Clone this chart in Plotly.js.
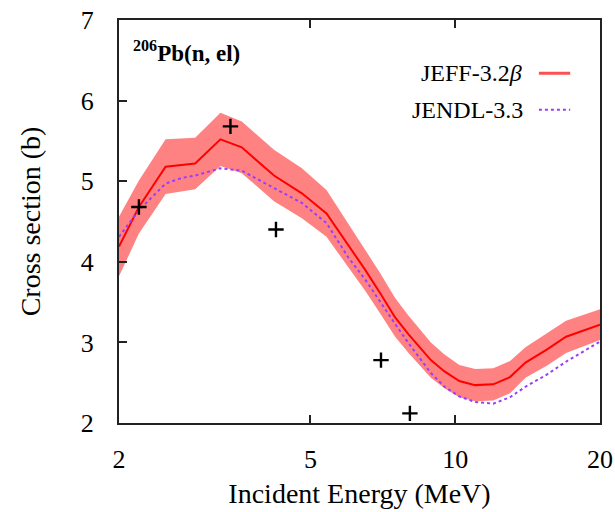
<!DOCTYPE html>
<html>
<head>
<meta charset="utf-8">
<script src="https://cdn.plot.ly/plotly-3.0.1.min.js"></script>
<style>html,body{margin:0;padding:0;background:#fff;}#chart{width:615px;height:512px;}</style>
</head>
<body>
<div id="chart"></div>
<script>
// JEFF-3.2beta evaluation (central value and 1-sigma half-width), barns
const jeffEnergy = [2.0, 2.2, 2.5, 2.88, 3.25, 3.6, 4.2, 4.8, 5.4, 6.0, 6.5, 7.0, 7.5, 8.0, 8.9, 9.5, 10.2, 11.0, 12.0, 13.0, 14.0, 15.5, 17.0, 20.0];
const jeffXS     = [4.19, 4.68, 5.18, 5.22, 5.52, 5.42, 5.07, 4.85, 4.60, 4.20, 3.90, 3.60, 3.31, 3.10, 2.78, 2.64, 2.52, 2.47, 2.48, 2.57, 2.75, 2.91, 3.07, 3.22];
const jeffErr    = [0.37, 0.33, 0.34, 0.32, 0.33, 0.32, 0.32, 0.31, 0.29, 0.27, 0.26, 0.25, 0.24, 0.23, 0.22, 0.21, 0.20, 0.20, 0.20, 0.20, 0.19, 0.20, 0.20, 0.19];

// JENDL-3.3 evaluation
const jendlEnergy = [2.0, 2.2, 2.5, 2.7, 2.88, 3.25, 3.6, 4.2, 4.8, 5.4, 6.0, 6.5, 7.0, 7.5, 8.0, 8.9, 9.5, 10.2, 11.0, 12.0, 13.0, 14.0, 15.5, 17.0, 20.0];
const jendlXS     = [4.31, 4.64, 4.97, 5.04, 5.07, 5.16, 5.13, 4.91, 4.73, 4.48, 4.05, 3.78, 3.49, 3.23, 2.99, 2.62, 2.45, 2.33, 2.26, 2.24, 2.32, 2.45, 2.60, 2.76, 3.01];

// Experimental points
const expEnergy = [2.20, 3.41, 4.24, 7.01, 8.05];
const expXS     = [4.68, 5.68, 4.40, 2.78, 2.12];

// Tick labels
const xTickVals = [2, 5, 10, 20];
const xTickText = ['2', '5', '10', '20'];
const yTickVals = [2, 3, 4, 5, 6, 7];

const upper = jeffXS.map((v, i) => v + jeffErr[i]);
const lower = jeffXS.map((v, i) => v - jeffErr[i]);

const serif = '"Liberation Serif", "Times New Roman", Times, "DejaVu Serif", serif';

const traces = [
  { x: jeffEnergy, y: upper, type: 'scatter', mode: 'lines', line: {width: 0, color: 'rgba(0,0,0,0)'}, hoverinfo: 'skip', showlegend: false },
  { x: jeffEnergy, y: lower, type: 'scatter', mode: 'lines', line: {width: 0, color: 'rgba(0,0,0,0)'}, fill: 'tonexty', fillcolor: 'rgb(255,130,130)', hoverinfo: 'skip', showlegend: false },
  { x: jeffEnergy, y: jeffXS, type: 'scatter', mode: 'lines', line: {color: '#ff0000', width: 2}, name: 'JEFF-3.2β', showlegend: false },
  { x: jendlEnergy, y: jendlXS, type: 'scatter', mode: 'lines', line: {color: '#9a3cff', width: 2, dash: 'dot'}, name: 'JENDL-3.3', showlegend: false },
  { x: expEnergy, y: expXS, type: 'scatter', mode: 'markers', marker: {symbol: 'cross-thin', size: 11, line: {color: '#000', width: 2.4}, color: '#000'}, name: 'EXFOR', showlegend: false }
];

const layout = {
  width: 615, height: 512,
  margin: {l: 119, r: 15, t: 20, b: 89},
  paper_bgcolor: '#fff', plot_bgcolor: '#fff',
  font: {family: serif, color: '#000', size: 26},
  showlegend: false,
  xaxis: {
    type: 'log', range: [Math.log10(2), Math.log10(20)],
    tickvals: xTickVals, ticktext: xTickText,
    ticks: 'inside', ticklen: 8, tickwidth: 2, tickcolor: '#222',
    showline: true, linecolor: '#222', linewidth: 2, mirror: 'ticks',
    showgrid: false, zeroline: false,
    tickfont: {family: serif, size: 26, color: '#000'},
    ticklabelstandoff: 12,
    title: {text: 'Incident Energy (MeV)', font: {family: serif, size: 28, color: '#000'}, standoff: 10}
  },
  yaxis: {
    range: [2, 7], tickvals: yTickVals,
    ticks: 'inside', ticklen: 8, tickwidth: 2, tickcolor: '#222',
    showline: true, linecolor: '#222', linewidth: 2, mirror: true,
    showgrid: false, zeroline: false,
    tickfont: {family: serif, size: 26, color: '#000'},
    ticklabelstandoff: 18,
    title: {text: 'Cross section (b)', font: {family: serif, size: 28, color: '#000'}, standoff: 32}
  },
  annotations: [
    {xref: 'paper', yref: 'paper', x: 0.025, y: 0.921, xanchor: 'left', yanchor: 'middle', showarrow: false,
     text: '<b><sup>206</sup>Pb(n, el)</b>', font: {family: serif, size: 23, color: '#000'}},
    {xref: 'paper', yref: 'paper', x: 0.842, y: 0.868, xanchor: 'right', yanchor: 'middle', showarrow: false,
     text: 'JEFF-3.2<i>β</i>', font: {family: serif, size: 24, color: '#000'}},
    {xref: 'paper', yref: 'paper', x: 0.845, y: 0.777, xanchor: 'right', yanchor: 'middle', showarrow: false,
     text: 'JENDL-3.3', font: {family: serif, size: 24, color: '#000'}}
  ],
  shapes: [
    {type: 'line', xref: 'paper', yref: 'paper', x0: 0.873, x1: 0.938, y0: 0.868, y1: 0.868, line: {color: '#ff5050', width: 3}},
    {type: 'line', xref: 'paper', yref: 'paper', x0: 0.873, x1: 0.938, y0: 0.777, y1: 0.777, line: {color: '#9a3cff', width: 2, dash: 'dot'}}
  ]
};

Plotly.newPlot('chart', traces, layout, {displayModeBar: false, staticPlot: true});
</script>
</body>
</html>
